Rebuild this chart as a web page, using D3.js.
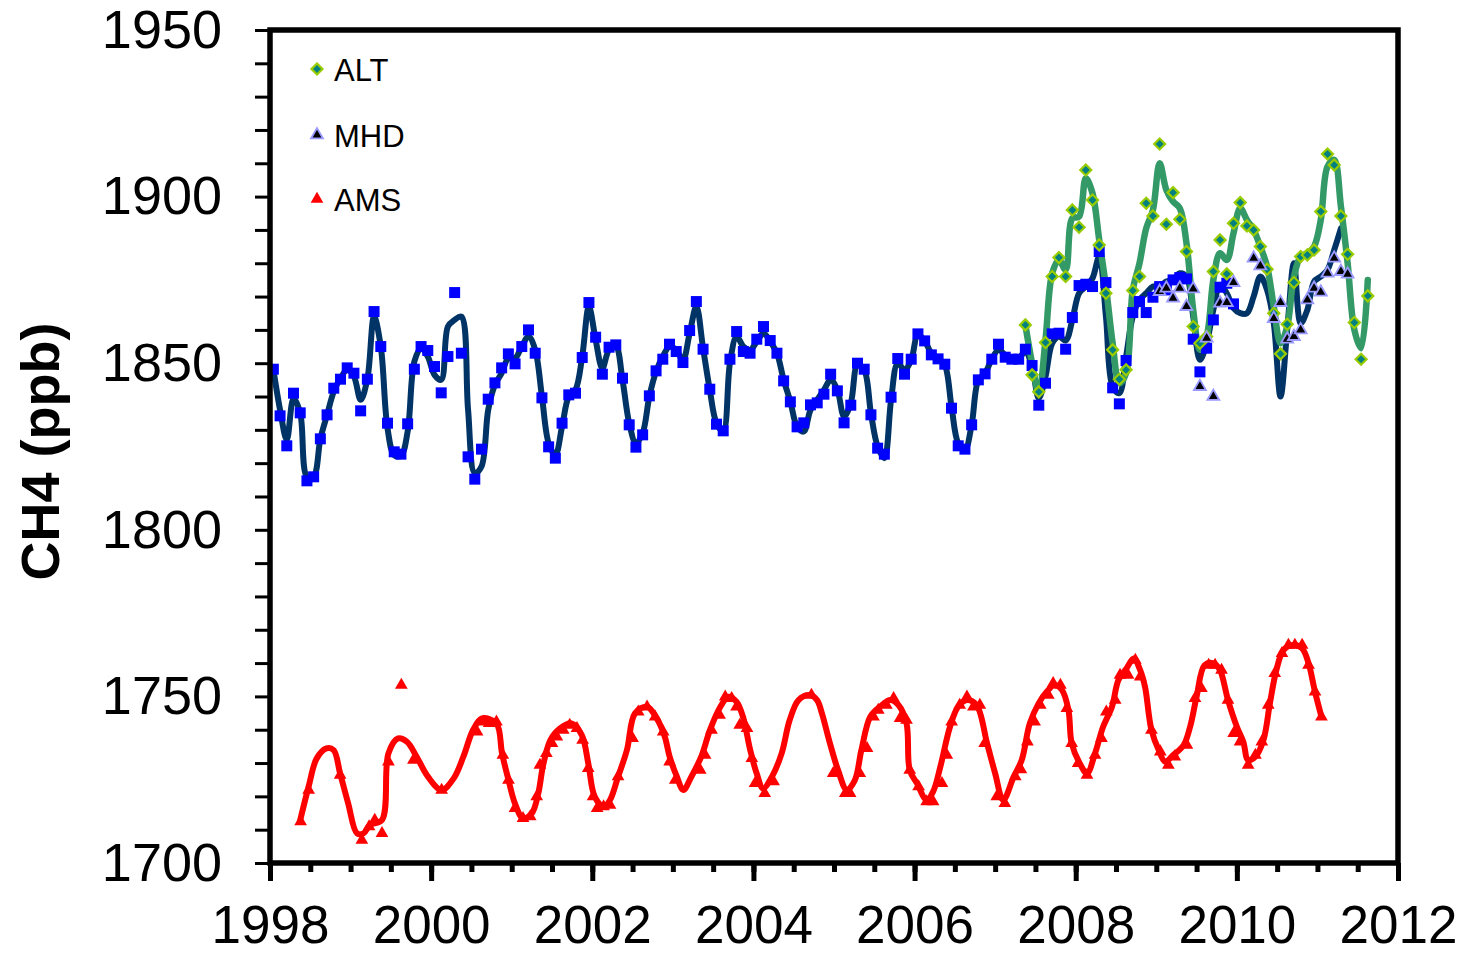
<!DOCTYPE html>
<html>
<head>
<meta charset="utf-8">
<script src="https://cdn.jsdelivr.net/npm/d3@7"></script>
<style>
  html, body { margin: 0; padding: 0; background: #ffffff; }
  svg { display: block; }
</style>
</head>
<body>
<svg id="chart" width="1466" height="955"></svg>
<script>
// ---------------- DATA ----------------
// Monthly series: [startYear, startMonth] + values
const squareStart = [1998, 1];
const squareValues = [
  1848.2, 1834.2, 1825.2, 1841.0, 1835.1, 1814.7, 1815.9, 1827.3, 1834.5, 1842.5, 1845.2, 1848.6,
  1847.0, 1835.7, 1845.2, 1865.5, 1855.0, 1832.0, 1823.4, 1822.7, 1831.8, 1848.2, 1855.0, 1853.8,
  1849.0, 1841.1, 1852.0, 1871.2, 1853.0, 1821.9, 1815.2, 1824.2, 1839.2, 1844.1, 1848.6, 1852.8,
  1849.8, 1855.0, 1860.0, 1853.0, 1839.6, 1824.9, 1821.5, 1832.0, 1840.5, 1841.0, 1851.7, 1868.2,
  1857.8, 1846.7, 1854.8, 1855.5, 1845.5, 1831.5, 1824.8, 1828.5, 1840.2, 1847.7, 1851.2, 1855.7,
  1853.5, 1850.2, 1859.8, 1868.5, 1854.2, 1842.2, 1831.7, 1829.7, 1851.2, 1859.5, 1853.5, 1853.0,
  1857.2, 1861.0, 1856.8, 1853.0, 1844.7, 1838.4, 1830.9, 1832.1, 1837.5, 1838.1, 1840.7, 1846.7,
  1841.7, 1832.1, 1837.4, 1850.0, 1848.2, 1834.5, 1824.5, 1822.7, 1839.8, 1851.4, 1846.7, 1851.2,
  1858.8, 1856.7, 1852.5, 1851.3, 1849.7, 1836.5, 1825.2, 1824.2, 1831.5, 1845.0, 1846.8, 1851.2,
  1855.7, 1851.8, 1851.2, 1851.2, 1854.2, 1849.3, 1837.4, 1844.0, 1858.8, 1859.0, 1854.2, 1863.7,
  1873.3, 1873.7, 1873.0, 1883.5, 1874.2, 1842.6, 1837.8, 1850.8, 1865.2, 1868.5, 1865.2, 1869.8,
  1873.0, 1872.0, 1875.0, 1875.7, 1875.3, 1857.2, 1847.4, 1854.5, 1863.0, 1872.8, 1874.0, 1867.8
];

const navyLineStart = [1998, 1];
const navyLineValues = [
  1848.2, 1836.0, 1827.0, 1839.4, 1835.0, 1816.0, 1816.0, 1827.3, 1834.5, 1841.5, 1845.5, 1848.0,
  1846.0, 1839.0, 1845.2, 1864.0, 1855.0, 1830.5, 1822.4, 1822.2, 1829.5, 1850.5, 1854.5, 1852.0,
  1846.5, 1845.0, 1861.0, 1863.0, 1864.0, 1836.0, 1817.0, 1819.0, 1836.0, 1843.5, 1847.0, 1851.5,
  1851.5, 1855.0, 1858.0, 1854.0, 1840.0, 1826.0, 1822.4, 1831.0, 1840.0, 1842.0, 1852.0, 1867.0,
  1857.0, 1848.5, 1854.0, 1855.0, 1845.0, 1832.0, 1826.0, 1829.0, 1840.0, 1847.5, 1852.0, 1855.0,
  1854.0, 1851.0, 1859.0, 1867.0, 1854.5, 1842.0, 1832.0, 1829.5, 1850.0, 1858.0, 1855.0, 1854.0,
  1856.5, 1859.0, 1856.5, 1853.0, 1845.0, 1838.5, 1831.0, 1829.5, 1836.0, 1839.0, 1842.0, 1845.0,
  1842.0, 1834.0, 1838.0, 1849.5, 1848.0, 1835.0, 1825.0, 1821.5, 1839.0, 1850.0, 1848.0, 1851.0,
  1858.5, 1856.7, 1853.0, 1851.5, 1849.5, 1837.0, 1826.0, 1824.0, 1831.5, 1845.0, 1847.0, 1851.2,
  1854.0, 1852.5, 1851.5, 1851.5, 1853.5, 1849.0, 1839.5, 1846.0, 1856.0, 1858.0, 1856.8, 1863.0,
  1871.0, 1873.0, 1875.5, 1882.0, 1864.0, 1843.0, 1841.0, 1852.0, 1864.0, 1869.0, 1871.0, 1873.0,
  1873.0, 1874.5, 1875.0, 1877.0, 1876.0, 1864.0, 1851.0, 1856.0, 1866.0, 1873.5, 1871.0, 1866.5,
  1865.0, 1865.0, 1870.0, 1876.0, 1872.0, 1862.0, 1840.0, 1860.0, 1880.0, 1862.0, 1866.0, 1874.5,
  1876.0, 1878.0, 1884.0, 1890.5
];

const altStart = [2007, 5];
const altValues = [
  1861.5, 1846.5, 1841.4, 1856.2, 1876.0, 1881.7, 1876.0, 1896.0,
  1890.8, 1908.0, 1899.0, 1885.5, 1871.0, 1854.0, 1845.2, 1848.0, 1871.8, 1876.0, 1898.0, 1894.2,
  1915.8, 1891.7, 1901.2, 1893.2, 1883.5, 1861.0, 1856.0, 1858.0, 1877.5, 1887.0, 1876.8, 1892.0,
  1898.2, 1891.2, 1890.0, 1885.0, 1878.2, 1865.0, 1852.8, 1861.7, 1874.2, 1882.0, 1882.5, 1884.0,
  1895.5, 1912.8, 1909.5, 1894.2, 1882.7, 1862.2, 1851.2, 1870.2
];
const altLineValues = [
  1861.5, 1850.0, 1841.0, 1857.0, 1877.0, 1881.0, 1878.0, 1893.5,
  1894.0, 1905.5, 1901.0, 1887.0, 1873.0, 1856.0, 1844.0, 1847.0, 1872.0, 1880.0, 1890.5, 1896.0,
  1910.0, 1902.0, 1898.5, 1896.5, 1886.0, 1866.0, 1854.0, 1858.0, 1875.0, 1883.0, 1881.0, 1889.0,
  1896.5, 1893.0, 1890.0, 1885.0, 1879.0, 1867.0, 1856.0, 1861.0, 1876.0, 1882.0, 1883.0, 1885.0,
  1893.0, 1909.0, 1911.0, 1897.0, 1880.0, 1860.0, 1854.5, 1875.0
];

const mhdStart = [2009, 1];
const mhdValues = [
  1871.5, 1872.5, 1869.5, 1872.5, 1867.0, 1872.3, 1843.0, 1857.5, 1840.0, 1868.0, 1868.2, 1874.2,
  null, null, 1881.5, 1879.2, null, 1863.4, 1868.2, 1857.2, 1858.0, 1860.0, 1869.0, 1872.5,
  1871.3, 1877.0, 1881.5, 1877.5, 1876.7
];

// AMS: irregular sampling (decimal year, ppb)
const amsYears = [
  1998.38, 1998.48, 1998.87, 1999.14, 1999.23, 1999.30, 1999.39, 1999.47, 1999.63, 1999.78,
  2000.13, 2000.57, 2000.65, 2000.72, 2000.81, 2000.89, 2000.96, 2001.04, 2001.14, 2001.23,
  2001.31, 2001.35, 2001.43, 2001.50, 2001.56, 2001.64, 2001.72, 2001.81, 2001.88, 2001.95,
  2002.01, 2002.06, 2002.14, 2002.22, 2002.32, 2002.50, 2002.57, 2002.68, 2002.78, 2002.88,
  2002.96, 2003.03, 2003.34, 2003.40, 2003.48, 2003.58, 2003.65, 2003.73, 2003.79, 2003.83,
  2003.92, 2003.98, 2004.02, 2004.14, 2004.25, 2004.72, 2004.99, 2005.14, 2005.20, 2005.32,
  2005.41, 2005.49, 2005.55, 2005.65, 2005.74, 2005.82, 2005.90, 2005.94, 2006.05, 2006.15,
  2006.23, 2006.34, 2006.40, 2006.46, 2006.56, 2006.65, 2006.73, 2006.81, 2006.87, 2007.02,
  2007.12, 2007.25, 2007.32, 2007.40, 2007.49, 2007.56, 2007.66, 2007.72, 2007.81, 2007.89,
  2007.95, 2008.03, 2008.14, 2008.24, 2008.32, 2008.38, 2008.49, 2008.55, 2008.65, 2008.74,
  2008.80, 2008.94, 2009.05, 2009.15, 2009.23, 2009.38, 2009.48, 2009.56, 2009.65, 2009.73,
  2009.81, 2009.89, 2009.96, 2010.04, 2010.14, 2010.23, 2010.31, 2010.39, 2010.47, 2010.56,
  2010.64, 2010.72, 2010.81, 2010.89, 2010.97, 2011.05
];
const amsValues = [
  1712.4, 1721.9, 1726.4, 1706.9, 1710.9, 1712.9, 1708.9, 1730.4, 1753.4, 1730.9,
  1721.9, 1739.4, 1742.4, 1741.9, 1742.4, 1732.4, 1724.9, 1716.4, 1713.4, 1713.9,
  1719.9, 1729.4, 1732.9, 1735.9, 1737.9, 1739.9, 1741.4, 1740.4, 1736.9, 1728.4,
  1719.9, 1716.4, 1716.9, 1717.4, 1725.9, 1737.4, 1745.4, 1746.9, 1743.9, 1739.4,
  1730.4, 1724.9, 1727.9, 1732.4, 1739.9, 1744.4, 1749.9, 1749.4, 1746.9, 1741.4,
  1740.4, 1731.4, 1723.9, 1720.9, 1724.4, 1750.4, 1726.9, 1720.9, 1720.9, 1726.9,
  1734.4, 1743.9, 1745.9, 1747.4, 1749.4, 1743.4, 1742.9, 1727.9, 1722.9, 1718.4,
  1718.4, 1723.9, 1732.4, 1742.4, 1747.4, 1749.9, 1746.9, 1747.4, 1735.9, 1719.9,
  1717.9, 1725.9, 1728.0, 1736.4, 1742.4, 1747.4, 1750.4, 1753.9, 1753.4, 1746.4,
  1735.9, 1729.9, 1726.4, 1732.4, 1737.4, 1745.4, 1748.9, 1756.4, 1756.4, 1760.9,
  1755.9, 1739.9, 1733.4, 1729.4, 1731.9, 1735.4, 1749.4, 1752.4, 1759.4, 1759.4,
  1757.9, 1748.9, 1738.9, 1736.4, 1729.4, 1732.4, 1736.4, 1747.4, 1756.9, 1762.9,
  1765.4, 1765.4, 1765.4, 1759.4, 1751.4, 1743.9
];

// AMS smoothed curve (decimal year, ppb)
const amsLineYears = [
  1998.37, 1998.48, 1998.58, 1998.70, 1998.79, 1998.87, 1998.97, 1999.08, 1999.16, 1999.24,
  1999.39, 1999.47, 1999.59, 1999.70, 1999.82, 1999.96, 2000.13, 2000.28, 2000.40, 2000.52,
  2000.63, 2000.81, 2000.88, 2000.96, 2001.04, 2001.14, 2001.25, 2001.33, 2001.39, 2001.48,
  2001.60, 2001.74, 2001.87, 2001.95, 2002.03, 2002.14, 2002.22, 2002.32, 2002.43, 2002.53,
  2002.68, 2002.80, 2002.90, 2002.96, 2003.05, 2003.13, 2003.23, 2003.36, 2003.46, 2003.59,
  2003.69, 2003.79, 2003.87, 2003.96, 2004.04, 2004.12, 2004.23, 2004.35, 2004.45, 2004.56,
  2004.70, 2004.79, 2004.85, 2004.95, 2005.05, 2005.16, 2005.26, 2005.34, 2005.45, 2005.57,
  2005.70, 2005.80, 2005.90, 2005.94, 2006.03, 2006.15, 2006.23, 2006.32, 2006.44, 2006.54,
  2006.65, 2006.77, 2006.90, 2007.00, 2007.10, 2007.23, 2007.33, 2007.43, 2007.54, 2007.64,
  2007.74, 2007.83, 2007.91, 2007.95, 2008.05, 2008.14, 2008.24, 2008.34, 2008.45, 2008.53,
  2008.63, 2008.72, 2008.80, 2008.86, 2008.94, 2009.03, 2009.11, 2009.21, 2009.34, 2009.42,
  2009.50, 2009.60, 2009.71, 2009.79, 2009.89, 2010.00, 2010.08, 2010.14, 2010.23, 2010.33,
  2010.41, 2010.49, 2010.58, 2010.70, 2010.81, 2010.89, 2010.97, 2011.05
];
const amsLineValues = [
  1712.4, 1723.0, 1731.4, 1734.4, 1733.9, 1726.9, 1717.9, 1708.9, 1708.9, 1711.4,
  1712.9, 1732.9, 1737.4, 1736.4, 1731.9, 1725.9, 1721.9, 1725.4, 1731.9, 1739.9,
  1743.4, 1741.9, 1732.9, 1724.9, 1717.9, 1713.4, 1714.9, 1720.9, 1729.4, 1736.9,
  1740.4, 1741.9, 1738.4, 1729.9, 1719.9, 1716.9, 1718.9, 1725.9, 1733.9, 1744.9,
  1746.9, 1743.4, 1737.9, 1731.9, 1725.9, 1721.9, 1725.9, 1732.4, 1739.9, 1746.9,
  1749.9, 1748.4, 1743.9, 1733.9, 1726.9, 1722.4, 1725.9, 1732.9, 1742.9, 1748.9,
  1750.4, 1748.9, 1744.9, 1735.9, 1727.9, 1721.9, 1724.9, 1733.9, 1743.9, 1746.9,
  1748.9, 1747.4, 1741.9, 1727.9, 1723.9, 1718.9, 1721.4, 1728.9, 1740.9, 1746.9,
  1748.9, 1747.4, 1735.9, 1726.9, 1718.9, 1725.9, 1730.9, 1741.9, 1747.9, 1751.4,
  1753.4, 1751.9, 1745.9, 1735.9, 1729.9, 1726.9, 1732.9, 1740.9, 1746.9, 1754.9,
  1758.4, 1761.4, 1757.9, 1752.9, 1739.9, 1733.9, 1730.4, 1732.4, 1735.4, 1740.9,
  1749.9, 1759.4, 1759.9, 1757.9, 1748.9, 1740.9, 1736.4, 1730.9, 1731.9, 1736.9,
  1747.9, 1757.9, 1763.9, 1765.4, 1764.4, 1759.9, 1751.4, 1743.9
];

const yTicksMajor = [1700, 1750, 1800, 1850, 1900, 1950];
const xTicksMajor = [1998, 2000, 2002, 2004, 2006, 2008, 2010, 2012];
const legendLabels = ["ALT", "MHD", "AMS"];
const yTitle = "CH4 (ppb)";

// ---------------- HELPERS ----------------
function monthly(start, values) {
  return values.map((v, i) => {
    const m = start[1] - 1 + i;
    return { t: start[0] + (m + 0.5) / 12, v: v };
  }).filter(d => d.v !== null);
}
function paired(years, values) {
  return years.map((t, i) => ({ t: t, v: values[i] }));
}

const squares = monthly(squareStart, squareValues);
const navyLine = monthly(navyLineStart, navyLineValues);
const alt = monthly(altStart, altValues);
const altLine = monthly(altStart, altLineValues);
const mhd = monthly(mhdStart, mhdValues);
const ams = paired(amsYears, amsValues);
const amsLine = paired(amsLineYears, amsLineValues);

// ---------------- LAYOUT ----------------
const svg = d3.select("#chart");
const L = 270, R = 1398, T = 30, B = 863;
const x = d3.scaleLinear().domain([1998, 2012]).range([L, R]);
const y = d3.scaleLinear().domain([1700, 1950]).range([B, T]);

const FONT = "'Liberation Sans', Arial, Helvetica, sans-serif";

svg.append("defs").append("clipPath").attr("id", "plot-clip")
  .append("rect").attr("x", L).attr("y", T).attr("width", R - L).attr("height", B - T);

const line = d3.line().x(d => x(d.t)).y(d => y(d.v)).curve(d3.curveCatmullRom.alpha(0.5));

const plot = svg.append("g").attr("clip-path", "url(#plot-clip)");

// Lines
plot.append("path").datum(navyLine).attr("d", line)
  .attr("fill", "none").attr("stroke", "#003366").attr("stroke-width", 6)
  .attr("stroke-linejoin", "round").attr("stroke-linecap", "round");
plot.append("path").datum(altLine).attr("d", line)
  .attr("fill", "none").attr("stroke", "#339966").attr("stroke-width", 6.5)
  .attr("stroke-linejoin", "round").attr("stroke-linecap", "round");

// Markers
const sqSym = d3.symbol().type(d3.symbolSquare).size(121);
plot.append("g").selectAll("path").data(squares).join("path")
  .attr("d", sqSym).attr("transform", d => `translate(${x(d.t)},${y(d.v)})`)
  .attr("fill", "#0000ff");

const diamondPath = "M0,-5.5L5.5,0L0,5.5L-5.5,0Z";
plot.append("g").selectAll("path").data(alt).join("path")
  .attr("d", diamondPath).attr("transform", d => `translate(${x(d.t)},${y(d.v)})`)
  .attr("fill", "#008080").attr("stroke", "#99cc00").attr("stroke-width", 2.2);

const triSym = d3.symbol().type(d3.symbolTriangle).size(62);
plot.append("g").selectAll("path").data(mhd).join("path")
  .attr("d", triSym).attr("transform", d => `translate(${x(d.t)},${y(d.v)})`)
  .attr("fill", "#000000").attr("stroke", "#9999ff").attr("stroke-width", 1.8);

plot.append("path").datum(amsLine).attr("d", line)
  .attr("fill", "none").attr("stroke", "#ff0000").attr("stroke-width", 6)
  .attr("stroke-linejoin", "round").attr("stroke-linecap", "round");

const redTri = d3.symbol().type(d3.symbolTriangle).size(70);
plot.append("g").selectAll("path").data(ams).join("path")
  .attr("d", redTri).attr("transform", d => `translate(${x(d.t)},${y(d.v)})`)
  .attr("fill", "#ff0000");

// ---------------- AXES ----------------
const yAxis = d3.axisLeft(y)
  .tickValues(d3.range(1700, 1951, 10))
  .tickSize(15).tickPadding(33)
  .tickFormat(d => yTicksMajor.includes(d) ? d3.format("d")(d) : "");
const gy = svg.append("g").attr("transform", `translate(${L},0)`).call(yAxis);
gy.select(".domain").remove();
gy.selectAll(".tick line").attr("stroke", "#000").attr("stroke-width", 3);
gy.selectAll(".tick text").attr("font-family", FONT).attr("font-size", 54).attr("fill", "#000");

const xMinor = d3.axisBottom(x).tickValues(d3.range(1998, 2012.01, 0.5)).tickSize(9).tickFormat("");
const gxm = svg.append("g").attr("transform", `translate(0,${B})`).call(xMinor);
gxm.select(".domain").remove();
gxm.selectAll(".tick line").attr("stroke", "#000").attr("stroke-width", 5);

const xMajor = d3.axisBottom(x).tickValues(xTicksMajor).tickSize(18).tickPadding(24)
  .tickFormat(d3.format("d"));
const gx = svg.append("g").attr("transform", `translate(0,${B})`).call(xMajor);
gx.select(".domain").remove();
gx.selectAll(".tick line").attr("stroke", "#000").attr("stroke-width", 5);
gx.selectAll(".tick text").attr("font-family", FONT).attr("font-size", 53).attr("fill", "#000");

// Frame
svg.append("rect").attr("x", L).attr("y", T).attr("width", R - L).attr("height", B - T)
  .attr("fill", "none").attr("stroke", "#000").attr("stroke-width", 5.5);

// Y title
svg.append("text")
  .attr("transform", `translate(59,${(T + B) / 2 + 5}) rotate(-90)`)
  .attr("text-anchor", "middle")
  .attr("font-family", FONT).attr("font-weight", "bold").attr("font-size", 54)
  .attr("fill", "#000")
  .text(yTitle);

// ---------------- LEGEND ----------------
const legend = svg.append("g");
const legendY = [69, 135, 199];
legend.append("path").attr("d", diamondPath)
  .attr("transform", `translate(317,${legendY[0]})`)
  .attr("fill", "#008080").attr("stroke", "#99cc00").attr("stroke-width", 2.2);
legend.append("path").attr("d", triSym)
  .attr("transform", `translate(317,${legendY[1]})`)
  .attr("fill", "#000").attr("stroke", "#9999ff").attr("stroke-width", 1.8);
legend.append("path").attr("d", redTri)
  .attr("transform", `translate(317,${legendY[2]})`)
  .attr("fill", "#ff0000");
legendLabels.forEach((lab, i) => {
  legend.append("text")
    .attr("x", 334).attr("y", legendY[i] + 12)
    .attr("font-family", FONT).attr("font-size", 31).attr("fill", "#000")
    .text(lab);
});
</script>
</body>
</html>
